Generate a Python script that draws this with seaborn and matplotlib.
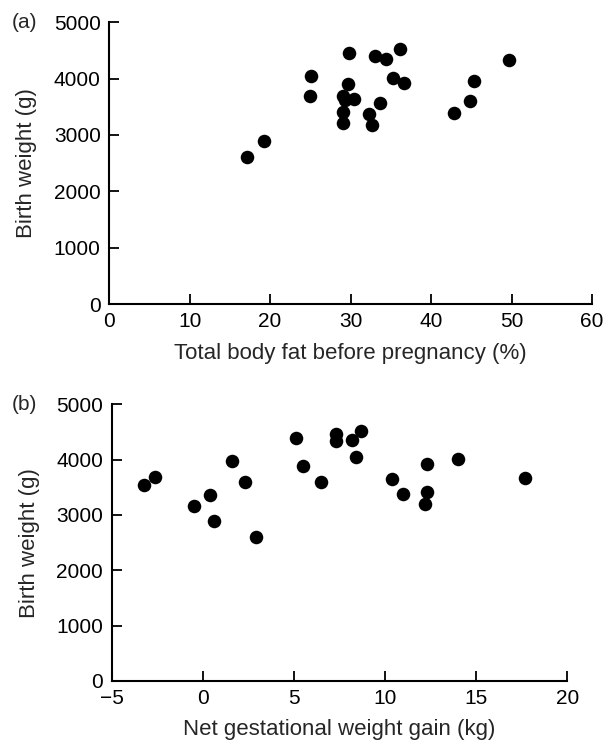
import seaborn as sns
import pandas as pd
from matplotlib import pyplot as plt
from matplotlib.transforms import blended_transform_factory

# (a) total body fat before pregnancy (%) vs birth weight (g)
fat_pct = [17.1, 19.3, 25.1, 25.0, 29.8, 29.7, 29.1, 29.3, 30.4, 29.0, 29.0,
           32.3, 32.7, 33.6, 33.0, 34.4, 36.1, 35.3, 36.6, 42.8, 44.8, 45.3, 49.7]
bw_a = [2610, 2900, 4040, 3690, 4460, 3900, 3700, 3620, 3630, 3410, 3215,
        3380, 3175, 3570, 4400, 4340, 4525, 4005, 3920, 3385, 3600, 3965, 4330]

# (b) net gestational weight gain (kg) vs birth weight (g)
gain_kg = [-3.2, -2.6, -0.5, 0.4, 0.6, 1.6, 2.3, 2.9, 5.1, 5.5, 6.5, 7.3,
           7.3, 8.2, 8.7, 8.4, 10.4, 11.0, 12.3, 12.3, 12.2, 14.0, 17.7]
bw_b = [3550, 3690, 3165, 3355, 2890, 3970, 3595, 2605, 4400, 3885, 3605, 4465,
        4335, 4350, 4525, 4045, 3645, 3385, 3925, 3410, 3195, 4010, 3665]

y_ticks = [0, 1000, 2000, 3000, 4000, 5000]

sns.set_style("ticks")
plt.rcParams["font.family"] = ["Liberation Sans", "DejaVu Sans"]
TICK_FS = 15
LABEL_FS = 16

fig = plt.figure(figsize=(6.06, 7.40), dpi=100)
ax_a = fig.add_axes([0.180, 0.589, 0.797, 0.381])
ax_b = fig.add_axes([0.184, 0.080, 0.752, 0.3735])

df_a = pd.DataFrame({"x": fat_pct, "y": bw_a})
df_b = pd.DataFrame({"x": gain_kg, "y": bw_b})

panels = [
    (ax_a, df_a, (0, 60), [0, 10, 20, 30, 40, 50, 60],
     "Total body fat before pregnancy (%)", "(a)"),
    (ax_b, df_b, (-5, 20), [-5, 0, 5, 10, 15, 20],
     "Net gestational weight gain (kg)", "(b)"),
]

for ax, df, xlim, xticks, xlabel, tag in panels:
    sns.scatterplot(data=df, x="x", y="y", ax=ax, color="black",
                    s=95, edgecolor="black", linewidth=0, clip_on=False)
    ax.set_xlim(*xlim)
    ax.set_ylim(0, 5000)
    ax.set_xticks(xticks)
    ax.set_xticklabels([str(t).replace("-", "\u2212") for t in xticks])
    ax.set_yticks(y_ticks)
    ax.set_xlabel(xlabel, fontsize=LABEL_FS, labelpad=8)
    ax.set_ylabel("Birth weight (g)", fontsize=LABEL_FS, labelpad=12)
    ax.tick_params(axis="both", direction="in", length=7, width=1.3,
                   labelsize=TICK_FS, pad=6, colors="black")
    for side in ["top", "right"]:
        ax.spines[side].set_visible(False)
    for side in ["left", "bottom"]:
        ax.spines[side].set_linewidth(1.5)
        ax.spines[side].set_color("black")
    # panel tag sits at the far left of the figure, level with the top tick
    trans = blended_transform_factory(fig.transFigure, ax.transAxes)
    ax.text(12 / 606, 1.0, tag, transform=trans, fontsize=TICK_FS,
            ha="left", va="center")

plt.savefig("out.png", dpi=100)
plt.close("all")
